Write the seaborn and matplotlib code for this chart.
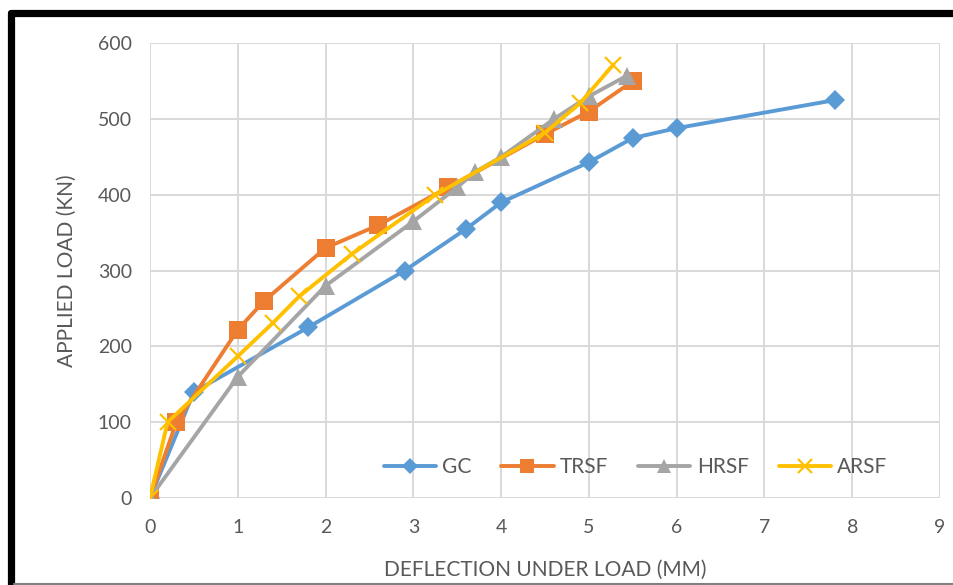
import matplotlib
matplotlib.use("Agg")
import matplotlib.pyplot as plt
from matplotlib.lines import Line2D
import seaborn as sns
import pandas as pd

# Load-deflection readings (deflection in mm, load in kN)
gc_defl = [0, 0.5, 1.8, 2.9, 3.6, 4.0, 5.0, 5.5, 6.0, 7.8]
gc_load = [0, 140, 225, 300, 355, 390, 443, 475, 488, 525]

trsf_defl = [0, 0.3, 1.0, 1.3, 2.0, 2.6, 3.4, 4.5, 5.0, 5.5]
trsf_load = [0, 100, 222, 260, 330, 360, 410, 480, 510, 550]

hrsf_defl = [0, 1.0, 2.0, 3.0, 3.5, 3.7, 4.0, 4.6, 5.0, 5.43]
hrsf_load = [0, 160, 280, 365, 410, 430, 450, 500, 530, 557]

arsf_defl = [0, 0.2, 1.0, 1.4, 1.7, 2.3, 3.25, 4.5, 4.9, 5.28]
arsf_load = [0, 100, 187, 231, 266, 322, 400, 482, 521, 572]

series_names = ["GC", "TRSF", "HRSF", "ARSF"]
series_colors = ["#5B9BD5", "#ED7D31", "#A5A5A5", "#FFC000"]

x_ticks = list(range(0, 10))
y_ticks = list(range(0, 700, 100))

frames = []
for name, dx, ly in zip(series_names,
                        [gc_defl, trsf_defl, hrsf_defl, arsf_defl],
                        [gc_load, trsf_load, hrsf_load, arsf_load]):
    frames.append(pd.DataFrame({"defl": dx, "load": ly, "series": name}))
df = pd.concat(frames, ignore_index=True)

sns.set_theme(style="white")
plt.rcParams["font.family"] = ["Lato", "DejaVu Sans"]

text_color = "#595959"
grid_color = "#D9D9D9"

fig = plt.figure(figsize=(9.54, 5.85), dpi=100)
ax = fig.add_axes([150 / 954, 1 - 498 / 585, 790 / 954, (498 - 43.3) / 585])

marker_style = {
    "GC": dict(marker="D", markersize=10, markeredgewidth=0),
    "TRSF": dict(marker="s", markersize=12.5, markeredgewidth=0),
    "HRSF": dict(marker="^", markersize=12.5, markeredgewidth=0),
    "ARSF": dict(marker="x", markersize=12, markeredgewidth=1.6),
}

for name, color in zip(series_names, series_colors):
    sub = df[df["series"] == name]
    sns.lineplot(data=sub, x="defl", y="load", ax=ax, color=color,
                 linewidth=2.8, sort=False, estimator=None,
                 markeredgecolor=color, markerfacecolor=color,
                 label=name, **marker_style[name])

ax.set_xlim(0, 9)
ax.set_ylim(0, 600)
ax.set_xticks(x_ticks)
ax.set_yticks(y_ticks)
ax.grid(True, color=grid_color, linewidth=1.4)
ax.set_axisbelow(True)
for sp in ax.spines.values():
    sp.set_visible(False)
ax.tick_params(axis="both", length=0, labelsize=14, labelcolor=text_color)
ax.tick_params(axis="x", pad=15)
ax.tick_params(axis="y", pad=13)
for lbl in ax.get_xticklabels() + ax.get_yticklabels():
    lbl.set_clip_on(False)

ax.set_xlabel("DEFLECTION UNDER LOAD (MM)", fontsize=15, color=text_color,
              labelpad=17)
ax.set_ylabel("APPLIED LOAD (KN)", fontsize=15, color=text_color,
              labelpad=15)

handles, labels = ax.get_legend_handles_labels()
ax.legend(handles, labels, ncol=4, frameon=False, loc="center",
          bbox_to_anchor=((635.5 - 150) / 790, (498 - 467) / (498 - 43.3)),
          fontsize=15, markerscale=0.8, handlelength=2.5,
          handletextpad=0.3, columnspacing=1.45, labelcolor=text_color)

# Outer frame: heavy black edges on top and left, thin grey base line
fig.add_artist(Line2D([11 / 954, 11 / 954], [0, 1 - 13 / 585],
                      transform=fig.transFigure, color="black",
                      linewidth=5.2, solid_capstyle="round",
                      solid_joinstyle="round"))
fig.add_artist(Line2D([11 / 954, 1.0], [1 - 13 / 585, 1 - 13 / 585],
                      transform=fig.transFigure, color="black",
                      linewidth=5.2, solid_capstyle="round"))
fig.add_artist(Line2D([14 / 954, 1.0], [1 - 583.5 / 585, 1 - 583.5 / 585],
                      transform=fig.transFigure, color="#808080",
                      linewidth=1.5))

fig.savefig("out.png", dpi=100, facecolor="white")
